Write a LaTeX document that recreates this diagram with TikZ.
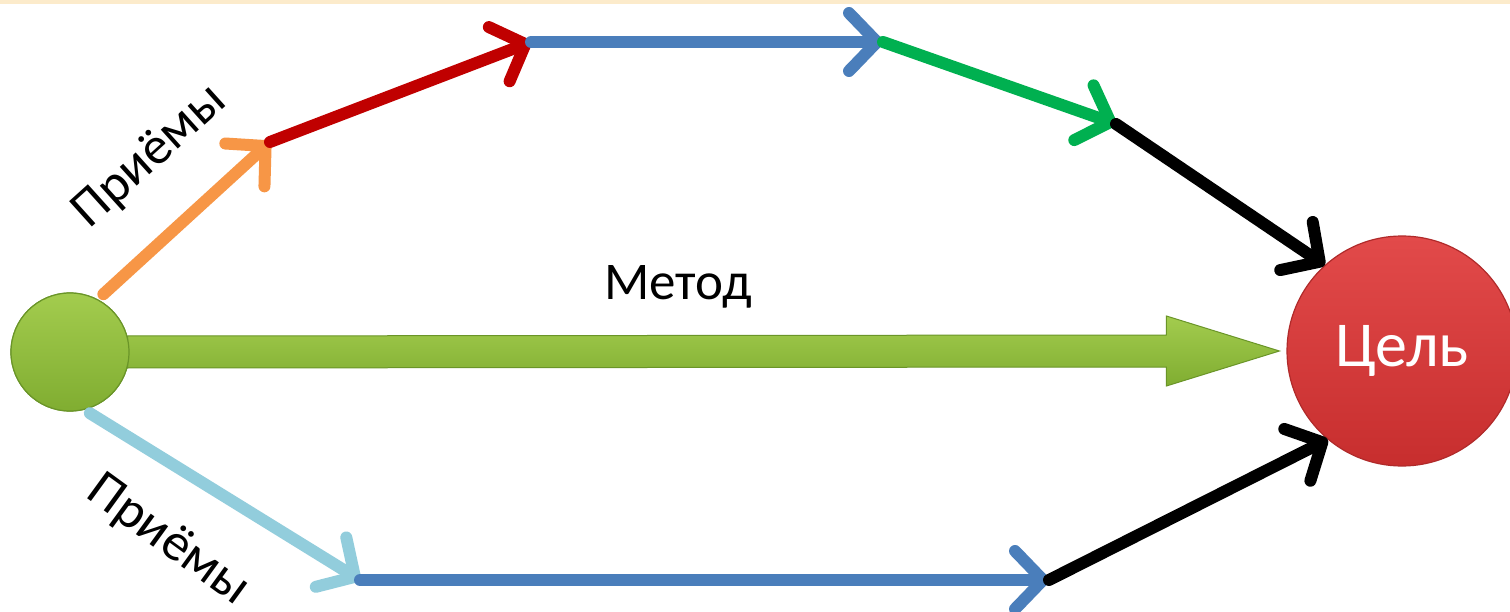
\documentclass[tikz,border=0pt]{standalone}
\usepackage{fontspec}
\setmainfont{Carlito}
\usetikzlibrary{arrows.meta,calc}
\definecolor{strip}{HTML}{FCEBCB}
\definecolor{corange}{HTML}{F79646}
\definecolor{cred}{HTML}{C00000}
\definecolor{cblue}{HTML}{4A7EBB}
\definecolor{cgreen}{HTML}{00B050}
\definecolor{clblue}{HTML}{92CDDC}
\definecolor{lgtop}{HTML}{A3CC4E}
\definecolor{lgbot}{HTML}{80AD31}
\definecolor{lgedge}{HTML}{6A9528}
\definecolor{rdtop}{HTML}{E24A4A}
\definecolor{rdbot}{HTML}{C72E2E}
\definecolor{rdedge}{HTML}{B02A2A}
\begin{document}
\begin{tikzpicture}[x=1pt,y=-1pt,
  link/.style={line width=12pt, line cap=round, -{Straight Barb[round,length=28pt,width=58pt]}},
  lbl/.style={font=\fontsize{53}{58}\selectfont, text=black, inner sep=0pt},
  startball/.style={circle, minimum size=118pt, inner sep=0pt, draw=lgedge, line width=1.2pt, top color=lgtop, bottom color=lgbot},
  goalball/.style={circle, minimum size=230pt, inner sep=0pt, draw=rdedge, line width=1.2pt, top color=rdtop, bottom color=rdbot, text=white, font=\fontsize{64}{70}\selectfont},
  bigarrow/.style={draw=lgedge, line width=1pt, top color=lgtop, bottom color=lgbot, line join=miter}]
\useasboundingbox (0,0) rectangle (1510,612);
\fill[white] (0,0) rectangle (1510,612);
\fill[strip] (0,0) rectangle (1510,4);

% nodes
\node[startball] (start) at (70,352) {};
\node[goalball] (goal) at (1402,351) {Цель};

% junction points
\coordinate (j1) at (270,142);
\coordinate (j2) at (531,42);
\coordinate (j3) at (883,42);
\coordinate (j4) at (1116,124);
\coordinate (j5) at (360,580);
\coordinate (j6) at (1049,580);

% big method arrow
\draw[bigarrow]
  ($(start.east)+(-2,-16)$) -- ($(goal.west)+(-120,-16)$) -- ($(goal.west)+(-120,-35)$)
  -- ($(goal.west)+(-7,0)$) -- ($(goal.west)+(-120,35)$) -- ($(goal.west)+(-120,16)$)
  -- ($(start.east)+(-2,16)$) -- cycle;
\node[startball] at (start) {};

% upper path
\draw[link, corange] ($(start.center)!1.12!(start.60)$) -- (j1);
\draw[link, cred] (j1) -- (j2);
\draw[link, cblue] (j2) -- (j3);
\draw[link, cgreen] (j3) -- (j4);
\draw[link, black] (j4) -- (goal.132);

% lower path
\draw[link, clblue] ($(start.center)!1.08!(start.288)$) -- (j5);
\draw[link, cblue] (j5) -- (j6);
\draw[link, black] (j6) -- (goal.230);

% labels
\node[lbl] (method) at (678,287) {Метод};
\node[lbl, rotate=42] (up) at (150,157) {Приёмы};
\node[lbl, rotate=-36] (down) at (168,541) {Приёмы};
\end{tikzpicture}
\end{document}
